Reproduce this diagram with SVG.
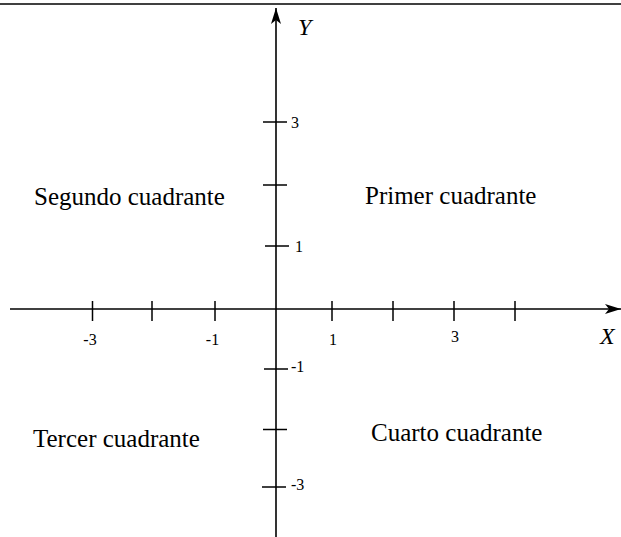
<svg xmlns="http://www.w3.org/2000/svg" width="621" height="537" viewBox="0 0 621 537">
<style>
.ax{stroke:#000;stroke-width:1.6;fill:none}
.tk{stroke:#000;stroke-width:1.5}
.lbl{font-family:"Liberation Serif","Times New Roman",serif;font-size:16px;fill:#000}
.q{font-family:"Liberation Serif","Times New Roman",serif;font-size:25px;fill:#000}
.axl{font-family:"Liberation Serif","Times New Roman",serif;font-size:24px;font-style:italic;fill:#000}
</style>
<defs>
<marker id="arr" viewBox="0 0 16 10" refX="16" refY="5" markerWidth="16" markerHeight="10" markerUnits="userSpaceOnUse" orient="auto">
<path d="M0,0 L16,5 L0,10 L4,5 Z" fill="#000"/>
</marker>
</defs>
<rect width="621" height="537" fill="#fff"/>
<line x1="0" y1="4" x2="621" y2="4" stroke="#000" stroke-width="1.4"/>
<g id="connectors">
<line id="x-axis" class="ax" x1="10" y1="309" x2="621" y2="309" marker-end="url(#arr)"/>
<line id="y-axis" class="ax" x1="276" y1="537" x2="276" y2="8" marker-end="url(#arr)"/>
</g>
<g id="x-ticks" class="tk">
<line x1="92.5" y1="301" x2="92.5" y2="321"/>
<line x1="152" y1="301" x2="152" y2="321"/>
<line x1="215" y1="301" x2="215" y2="321"/>
<line x1="332" y1="301" x2="332" y2="321"/>
<line x1="393" y1="301" x2="393" y2="321"/>
<line x1="454" y1="301" x2="454" y2="321"/>
<line x1="515" y1="301" x2="515" y2="321"/>
</g>
<g id="y-ticks" class="tk">
<line x1="263" y1="122" x2="287" y2="122"/>
<line x1="263" y1="185" x2="287" y2="185"/>
<line x1="265" y1="246" x2="289" y2="246"/>
<line x1="264" y1="369" x2="288" y2="369"/>
<line x1="263" y1="429.5" x2="287" y2="429.5"/>
<line x1="262" y1="487" x2="286" y2="487"/>
</g>
<g id="x-labels">
<text class="lbl" x="90" y="345" text-anchor="middle">-3</text>
<text class="lbl" x="212.5" y="345" text-anchor="middle">-1</text>
<text class="lbl" x="333" y="345" text-anchor="middle">1</text>
<text class="lbl" x="455" y="342" text-anchor="middle">3</text>
</g>
<g id="y-labels">
<text class="lbl" x="291" y="128">3</text>
<text class="lbl" x="295" y="252">1</text>
<text class="lbl" x="291" y="372">-1</text>
<text class="lbl" x="291" y="490">-3</text>
</g>
<g id="axis-Y"><text class="axl" x="298" y="35">Y</text></g>
<g id="axis-X"><text class="axl" x="600" y="344">X</text></g>
<g id="q2"><text class="q" x="34" y="205">Segundo cuadrante</text></g>
<g id="q1"><text class="q" x="365" y="204">Primer cuadrante</text></g>
<g id="q3"><text class="q" x="33" y="447">Tercer cuadrante</text></g>
<g id="q4"><text class="q" x="371" y="441">Cuarto cuadrante</text></g>
</svg>
